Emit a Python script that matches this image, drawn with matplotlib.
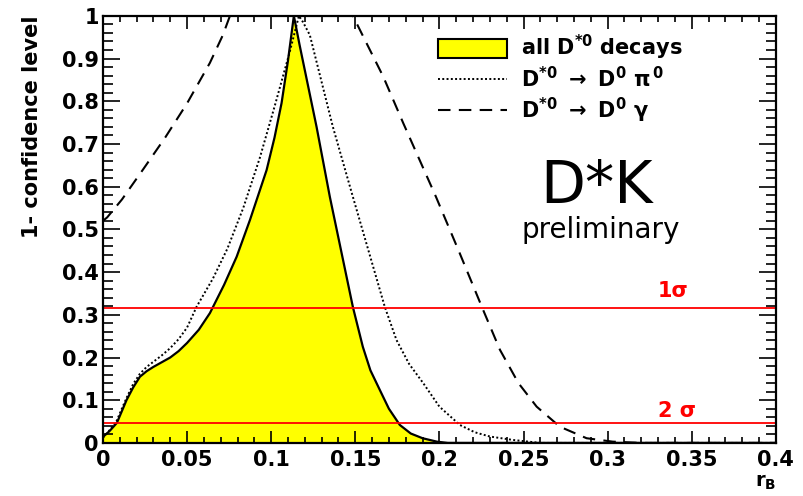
import numpy as np
import matplotlib
matplotlib.use('Agg')
import matplotlib.pyplot as plt
from matplotlib.patches import Patch
from matplotlib.lines import Line2D
from matplotlib.ticker import MultipleLocator

plt.rcParams['font.family'] = ['DejaVu Sans']
plt.rcParams['font.weight'] = 'bold'
plt.rcParams['mathtext.fontset'] = 'dejavusans'
plt.rcParams['mathtext.default'] = 'bf'

# combined scan, all D*0 decays
all_x = [0.0, 0.004, 0.0083, 0.011, 0.014, 0.018, 0.022, 0.026, 0.030, 0.035, 0.040,
         0.045, 0.050, 0.057, 0.0636, 0.072, 0.0795, 0.0874, 0.0973, 0.102, 0.1062,
         0.110, 0.1135, 0.117, 0.127, 0.1349, 0.1486, 0.1545, 0.159, 0.1646, 0.170,
         0.1765, 0.183, 0.190, 0.1985, 0.205, 0.4]
all_y = [0.014, 0.028, 0.047, 0.072, 0.100, 0.130, 0.155, 0.168, 0.178, 0.189, 0.200,
         0.215, 0.234, 0.265, 0.304, 0.370, 0.436, 0.522, 0.639, 0.715, 0.796,
         0.895, 1.0, 0.93, 0.74, 0.576, 0.318, 0.225, 0.170, 0.124, 0.080,
         0.042, 0.022, 0.011, 0.003, 0.0, 0.0]

# D*0 -> D0 pi0
pi0_x = [0.0, 0.004, 0.008, 0.011, 0.014, 0.018, 0.022, 0.026, 0.030, 0.035, 0.040,
         0.045, 0.050, 0.0557, 0.0654, 0.074, 0.0834, 0.0933, 0.1022, 0.111, 0.1165,
         0.119, 0.123, 0.1367, 0.1486, 0.1676, 0.1745, 0.182, 0.1904, 0.200, 0.2122,
         0.221, 0.230, 0.2437, 0.26, 0.4]
pi0_y = [0.012, 0.030, 0.050, 0.078, 0.105, 0.138, 0.162, 0.178, 0.190, 0.205, 0.222,
         0.243, 0.270, 0.319, 0.385, 0.455, 0.550, 0.668, 0.790, 0.915, 1.0,
         0.985, 0.955, 0.74, 0.576, 0.318, 0.241, 0.185, 0.140, 0.085, 0.042,
         0.025, 0.015, 0.007, 0.0, 0.0]

# D*0 -> D0 gamma
gam_x = [0.0, 0.0025, 0.0113, 0.0238, 0.037, 0.050, 0.0636, 0.0713, 0.0755, 0.1486,
         0.1567, 0.1666, 0.1785, 0.198, 0.212, 0.2253, 0.236, 0.247, 0.2578, 0.2716,
         0.2875, 0.303, 0.32, 0.4]
gam_y = [0.52, 0.528, 0.570, 0.640, 0.715, 0.795, 0.890, 0.955, 1.0, 1.0,
         0.936, 0.858, 0.749, 0.576, 0.445, 0.318, 0.218, 0.140, 0.085, 0.038,
         0.011, 0.003, 0.0, 0.0]

one_sigma = 0.317
two_sigma = 0.0455

fig = plt.figure(figsize=(8.04, 4.96), dpi=100)
ax = fig.add_axes([0.128, 0.107, 0.837, 0.861])

ax.fill_between(all_x, all_y, color='#ffff00', lw=0)
ax.plot(all_x, all_y, color='black', lw=1.6)
ax.plot(pi0_x, pi0_y, color='black', lw=1.4, linestyle=(0, (1, 1.2)))
ax.plot(gam_x, gam_y, color='black', lw=1.5, linestyle=(0, (6, 4)))

ax.axhline(one_sigma, color='red', lw=1.3)
ax.axhline(two_sigma, color='red', lw=1.3)
ax.text(0.33, one_sigma + 0.025, '1σ', color='red', fontsize=15, fontweight='bold')
ax.text(0.33, two_sigma + 0.016, '2 σ', color='red', fontsize=15, fontweight='bold')

ax.text(0.2936, 0.562, 'D*K', fontsize=42, fontweight='normal', ha='center')
ax.text(0.296, 0.48, 'preliminary', fontsize=20, fontweight='normal', ha='center')

ax.set_xlim(0, 0.4)
ax.set_ylim(0, 1)
ax.xaxis.set_major_locator(MultipleLocator(0.05))
ax.xaxis.set_minor_locator(MultipleLocator(0.01))
ax.yaxis.set_major_locator(MultipleLocator(0.1))
ax.yaxis.set_minor_locator(MultipleLocator(0.02))
ax.xaxis.set_major_formatter(plt.FuncFormatter(lambda v, p: f'{v:g}'))
ax.yaxis.set_major_formatter(plt.FuncFormatter(lambda v, p: f'{v:g}'))

ax.tick_params(which='both', direction='in', top=True, right=True, width=1.2,
               labelsize=15)
ax.tick_params(axis='x', which='major', length=9, pad=5)
ax.tick_params(axis='x', which='minor', length=4.5)
ax.tick_params(axis='y', which='major', length=12, pad=3)
ax.tick_params(axis='y', which='minor', length=7)
for s in ax.spines.values():
    s.set_linewidth(1.6)

ax.set_ylabel('1- confidence level', fontsize=15, fontweight='bold', loc='top',
              labelpad=14)
ax.set_xlabel(r'r$_\mathbf{B}$', fontsize=14, fontweight='bold', loc='right',
              labelpad=2)

handles = [Patch(facecolor='#ffff00', edgecolor='black', lw=1.5),
           Line2D([], [], color='black', lw=1.4, linestyle=(0, (1, 1.2))),
           Line2D([], [], color='black', lw=1.5, linestyle=(0, (6, 4)))]
labels = [r'all D$^{*0}$ decays',
          r'D$^{*0}$ $\rightarrow$ D$^{0}$ $\mathrm{\pi}^{\,0}$',
          r'D$^{*0}$ $\rightarrow$ D$^{0}$ $\mathrm{\gamma}$']
ax.legend(handles, labels, loc='upper left', bbox_to_anchor=(0.498, 0.96),
          frameon=False, borderpad=0, borderaxespad=0, fontsize=15,
          handlelength=3.3, handleheight=1.0, handletextpad=0.7,
          labelspacing=0.2)

fig.savefig('out.png', dpi=100)
